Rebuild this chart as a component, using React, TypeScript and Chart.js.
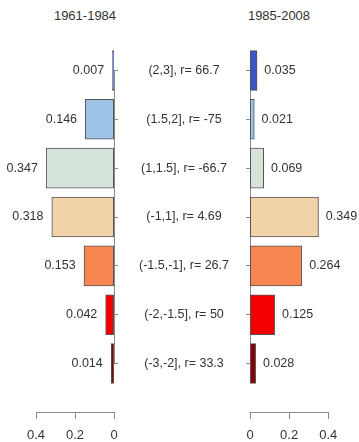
import React, { useEffect, useRef } from 'react';
import { Chart, registerables } from 'chart.js';

Chart.register(...registerables);

// ---- data ----
const categories = ['(2,3]', '(1.5,2]', '(1,1.5]', '(-1,1]', '(-1.5,-1]', '(-2,-1.5]', '(-3,-2]'];
const rValues = [66.7, -75, -66.7, 4.69, 26.7, 50, 33.3];
const early = [0.007, 0.146, 0.347, 0.318, 0.153, 0.042, 0.014];
const late = [0.035, 0.021, 0.069, 0.349, 0.264, 0.125, 0.028];
const periodTitles = ['1961-1984', '1985-2008'];
const xTicks = [0, 0.2, 0.4];
const barColors = ['#3b55c9', '#9dc3e6', '#d5e3d9', '#f2d2a9', '#f7854f', '#f40000', '#8b0000'];

const FONT = "'Liberation Sans', Arial, Helvetica, sans-serif";
const AXIS = '#8a8a8a';
const TEXT = '#333333';
const BORDER = '#555555';

function valueLabels(side: 'left' | 'right') {
  return {
    id: 'valueLabels_' + side,
    afterDatasetsDraw(chart: any) {
      const ctx = chart.ctx;
      const meta = chart.getDatasetMeta(0);
      const data = chart.data.datasets[0].data as number[];
      ctx.save();
      ctx.font = `12.5px ${FONT}`;
      ctx.fillStyle = TEXT;
      ctx.textBaseline = 'middle';
      ctx.textAlign = side === 'left' ? 'right' : 'left';
      meta.data.forEach((bar: any, i: number) => {
        const x = side === 'left' ? bar.x - 8.5 : bar.x + 7.5;
        ctx.fillText(Number(data[i]).toFixed(3), x, bar.y);
      });
      ctx.restore();
    },
  };
}

// R-style axis line: runs from the first tick to the last tick of the category axis
function axisSpan(side: 'left' | 'right') {
  return {
    id: 'axisSpan_' + side,
    beforeDatasetsDraw(chart: any) {
      const y = chart.scales.y;
      const n = y.ticks.length;
      if (!n) return;
      const xPix = Math.round(side === 'left' ? chart.chartArea.right : chart.chartArea.left) + 0.5;
      const ctx = chart.ctx;
      ctx.save();
      ctx.strokeStyle = AXIS;
      ctx.lineWidth = 1;
      ctx.beginPath();
      ctx.moveTo(xPix, y.getPixelForTick(0));
      ctx.lineTo(xPix, y.getPixelForTick(n - 1));
      ctx.stroke();
      ctx.restore();
    },
  };
}

function makeConfig(side: 'left' | 'right', values: number[]): any {
  const isLeft = side === 'left';
  return {
    type: 'bar',
    data: {
      labels: isLeft ? categories : categories.map((c, i) => `${c}, r= ${rValues[i]}`),
      datasets: [
        {
          data: values,
          backgroundColor: barColors,
          borderColor: BORDER,
          borderWidth: 1,
          borderSkipped: false,
          inflateAmount: 0.5,
          categoryPercentage: 1,
          barPercentage: 0.81,
        },
      ],
    },
    options: {
      indexAxis: 'y',
      responsive: false,
      animation: false,
      devicePixelRatio: 1,
      layout: {
        padding: isLeft
          ? { left: 36, right: 12, top: 46, bottom: 54 }
          : { left: 0, right: 30.7, top: 46, bottom: 54 },
      },
      plugins: {
        legend: { display: false },
        tooltip: { enabled: false },
        title: { display: false },
      },
      scales: {
        x: {
          type: 'linear',
          position: { y: 7 },
          reverse: isLeft,
          min: 0,
          max: 0.4,
          afterBuildTicks: (s: any) => {
            s.ticks = xTicks.map((v) => ({ value: v }));
          },
          grid: { drawOnChartArea: false, drawTicks: true, tickLength: 6, color: AXIS },
          border: { display: true, color: AXIS, width: 1 },
          ticks: {
            font: { size: 13, family: FONT },
            color: TEXT,
            padding: 9,
            maxRotation: 0,
            callback: (v: any) => String(v),
          },
        },
        y: {
          type: 'category',
          position: isLeft ? 'right' : 'left',
          offset: true,
          grid: { offset: false, drawOnChartArea: false, drawTicks: true, tickLength: 4, color: AXIS },
          border: { display: false },
          ticks: isLeft
            ? { display: false }
            : {
                display: true,
                crossAlign: 'center',
                padding: 17,
                autoSkip: false,
                font: { size: 12.5, family: FONT },
                color: TEXT,
              },
          afterFit: (s: any) => {
            s.width = isLeft ? 4 : 120;
          },
        },
      },
    },
    plugins: [axisSpan(side), valueLabels(side)],
  };
}

function ChartCanvas(props: { side: 'left' | 'right'; values: number[]; left: number; width: number }) {
  const ref = useRef<HTMLCanvasElement>(null);
  useEffect(() => {
    if (!ref.current) return;
    const chart = new Chart(ref.current, makeConfig(props.side, props.values));
    return () => chart.destroy();
  }, []);
  return (
    <canvas
      ref={ref}
      width={props.width}
      height={442}
      style={{ position: 'absolute', left: props.left, top: 0, width: props.width, height: 442 }}
    />
  );
}

export default function App() {
  const titleStyle = (center: number): React.CSSProperties => ({
    position: 'absolute',
    left: center - 50,
    top: 8,
    width: 100,
    height: 15,
    lineHeight: '15px',
    textAlign: 'center',
    fontFamily: FONT,
    fontSize: 13,
    color: TEXT,
  });
  return (
    <div style={{ position: 'absolute', left: 0, top: 0, width: 359, height: 442, background: '#ffffff', overflow: 'hidden' }}>
      <div style={titleStyle(85)}>{periodTitles[0]}</div>
      <div style={titleStyle(279)}>{periodTitles[1]}</div>
      <ChartCanvas side="left" values={early} left={0} width={130} />
      <ChartCanvas side="right" values={late} left={130} width={229} />
    </div>
  );
}
